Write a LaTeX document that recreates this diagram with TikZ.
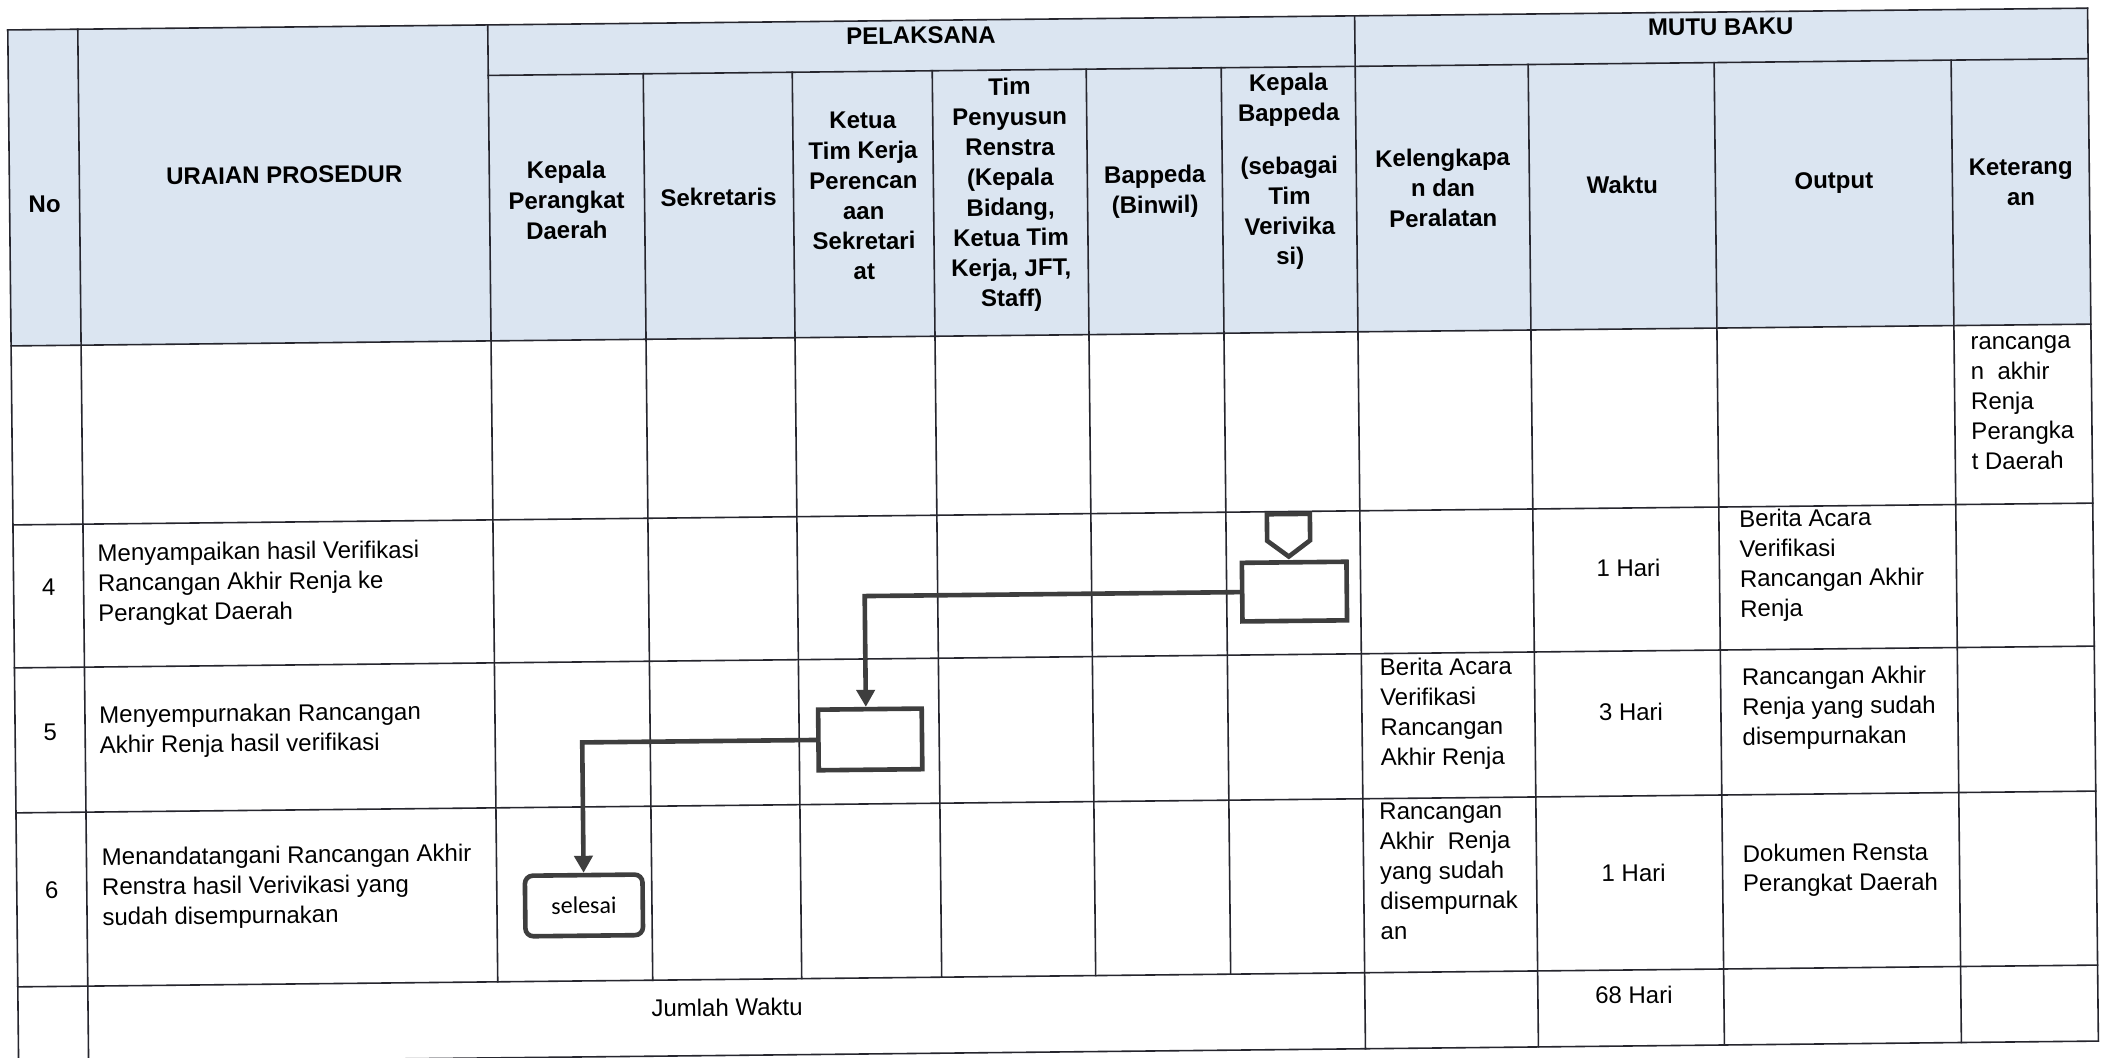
\documentclass[tikz,border=0pt]{standalone}
\usepackage{fontspec}
\setmainfont{Liberation Sans}
\newfontfamily\calibrifont{Carlito}
\usetikzlibrary{arrows.meta}
\definecolor{headblue}{HTML}{DBE5F1}
\definecolor{gridline}{HTML}{26262E}
\definecolor{flowline}{HTML}{3E3E3E}
\begin{document}
\begin{tikzpicture}[x=0.5pt,y=-0.5pt,
  grid/.style={draw=gridline,line width=0.8pt,line cap=rect},
  hd/.style={font=\fontsize{12}{15.1}\selectfont\bfseries,align=center,inner sep=0pt},
  bd/.style={font=\fontsize{12}{15}\selectfont,align=left,anchor=west,inner sep=0pt},
  bc/.style={font=\fontsize{12}{15}\selectfont,align=center,inner sep=0pt},
  proc/.style={draw=flowline,line width=2.3pt,fill=white,inner sep=0pt},
  flow/.style={draw=flowline,line width=2.3pt,-{Triangle[length=8.5pt,width=9pt]}},
]
\useasboundingbox (0,0) rectangle (2106,1057);
\fill[white] (0,0) rectangle (2106,1057);
\clip (0,0) rectangle (2106,1057);

\begin{scope}[rotate around={0.6:(1053,528)},transform shape]
% header background
\fill[headblue] (13,19) rectangle (2093,335);

% horizontal rules
\draw[grid] (13,19) -- (2093,19);
\draw[grid] (493,69.5) -- (2093,69.5);
\foreach \y in {335,514,657,802,976,1052}
  \draw[grid] (13,\y) -- (2093,\y);

% vertical rules
\foreach \x in {13,83,1360,2093}
  \draw[grid] (\x,19) -- (\x,1052);
\draw[grid] (493,19) -- (493,976);
\foreach \x in {648,797,937,1091,1226}
  \draw[grid] (\x,69.5) -- (\x,976);
\foreach \x in {1533,1719,1956}
  \draw[grid] (\x,69.5) -- (\x,1052);

% header texts
\node[hd] (hNo) at (48,194) {No};
\node[hd] (hUraian) at (288,167) {URAIAN PROSEDUR};
\node[hd] (hPel) at (926,34) {PELAKSANA};
\node[hd] (hMutu) at (1726,34) {MUTU BAKU};
\node[hd] (hKpd) at (570,195) {Kepala\\Perangkat\\Daerah};
\node[hd] (hSek) at (722,193.5) {Sekretaris};
\node[hd] (hKetua) at (867,194) {Ketua\\Tim Kerja\\Perencan\\aan\\Sekretari\\at};
\node[hd] (hTim) at (1014,194) {Tim\\Penyusun\\Renstra\\(Kepala\\Bidang,\\Ketua Tim\\Kerja, JFT,\\Staff)};
\node[hd] (hBinwil) at (1158.5,193) {Bappeda\\(Binwil)};
\node[hd] (hKbap) at (1293,174) {Kepala\\Bappeda\\[11.5pt](sebagai\\Tim\\Verivika\\si)};
\node[hd] (hKel) at (1446.5,192) {Kelengkapa\\n dan\\Peralatan};
\node[hd] (hWaktu) at (1626,191) {Waktu};
\node[hd] (hOut) at (1837.5,191) {Output};
\node[hd] (hKet) at (2024.5,192) {Keterang\\an};

% carried-over row
\node[bd] (k0) at (1972,413) {rancanga\\n\ \ akhir\\Renja\\Perangka\\t Daerah};

% row 4
\node[bc] (n4) at (48,577) {4};
\node[bd] (u4) at (97,575) {Menyampaikan hasil Verifikasi\\Rancangan Akhir Renja ke\\Perangkat Daerah};
\node[bc] (w4) at (1628,574) {1 Hari};
\node[bd] (o4) at (1739,573) {Berita Acara\\Verifikasi\\Rancangan Akhir\\Renja};

% row 5
\node[bc] (n5) at (48,722) {5};
\node[bd] (u5) at (97,722) {Menyempurnakan Rancangan\\Akhir Renja hasil verifikasi};
\node[bd] (l5) at (1378,718) {Berita Acara\\Verifikasi\\Rancangan\\Akhir Renja};
\node[bc] (w5) at (1629,718) {3 Hari};
\node[bd] (o5) at (1740,716) {Rancangan Akhir\\Renja yang sudah\\disempurnakan};

% row 6
\node[bc] (n6) at (48,880) {6};
\node[bd] (u6) at (98,879) {Menandatangani Rancangan Akhir\\Renstra hasil Verivikasi yang\\sudah disempurnakan};
\node[bd] (l6) at (1376,875) {Rancangan\\Akhir\ \ Renja\\yang sudah\\disempurnak\\an};
\node[bc] (w6) at (1630,879) {1 Hari};
\node[bd] (o6) at (1739,878) {Dokumen Rensta\\Perangkat Daerah};

% total row
\node[bc] (jml) at (722,1004) {Jumlah Waktu};
\node[bc] (wTot) at (1629,1001) {68 Hari};

% flow: off-page connector, processes and end
\draw[draw=flowline,line width=2.3pt,fill=white,line join=miter]
  (1267,516.5) -- (1310,516.5) -- (1310,543) -- (1288.5,559) -- (1267,543) -- cycle;
\coordinate (opc) at (1288.5,559);

\node[proc,minimum width=52.3pt,minimum height=29.3pt] (box1) at (1293.8,594.1) {};
\node[proc,minimum width=51.8pt,minimum height=30.3pt] (box2) at (868,737.5) {};
\node[proc,rounded corners=4pt,minimum width=58.8pt,minimum height=30.3pt,
      font=\calibrifont\fontsize{12}{14}\selectfont] (fin) at (580,900.5) {selesai};

\draw[flow] (box1.west) -| ([xshift=-2pt]box2.north);
\draw[flow] (box2.west) -| (fin.north);
\end{scope}
\end{tikzpicture}
\end{document}
